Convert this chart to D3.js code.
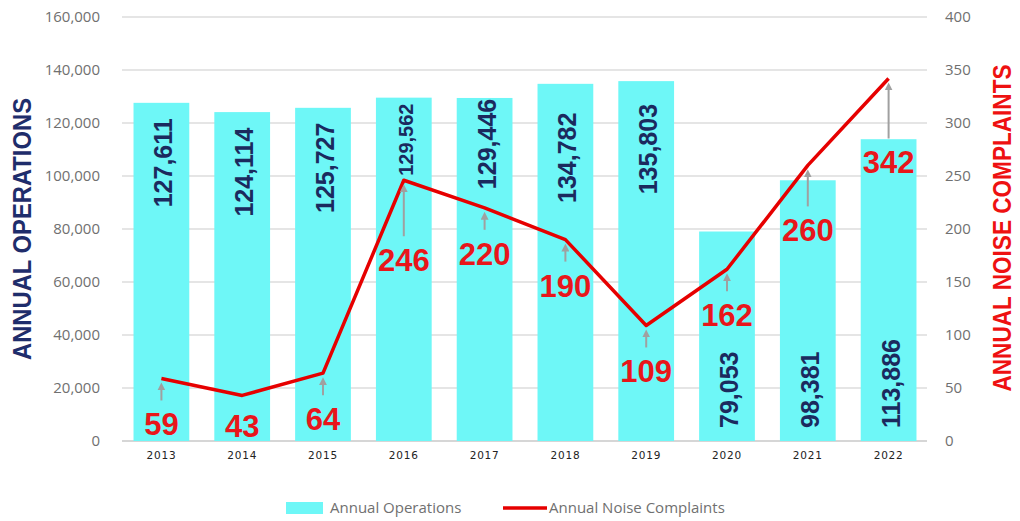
<!DOCTYPE html>
<html>
<head>
<meta charset="UTF-8">
<title></title>
<style>
  body { margin: 0; background: #fff; }
</style>
</head>
<body>
<script src="https://cdn.jsdelivr.net/npm/d3@7"></script>
<script>

    var years = ['2013', '2014', '2015', '2016', '2017', '2018', '2019', '2020', '2021', '2022'];
    var operations = [127611, 124114, 125727, 129562, 129446, 134782, 135803, 79053, 98381, 113886];
    var complaints = [59, 43, 64, 246, 220, 190, 109, 162, 260, 342];
    var opsTicks = [0, 20000, 40000, 60000, 80000, 100000, 120000, 140000, 160000];
    var noiseTicks = [0, 50, 100, 150, 200, 250, 300, 350, 400];

    var w = 1020,
        h = 521;
    var plotL = 121, plotR = 929, plotT = 17, plotB = 441;

    var svg = d3.select('body')
            .append('svg')
            .attr('width', w)
            .attr('height', h);

    var x = d3.scaleBand()
            .domain(years)
            .range([plotL, plotR])
            .paddingInner(0.31)
            .paddingOuter(0.155);
    var yOps = d3.scaleLinear().domain([0, 160000]).range([plotB, plotT]);
    var yNoise = d3.scaleLinear().domain([0, 400]).range([plotB, plotT]);

    function cx(i) { return x(years[i]) + x.bandwidth() / 2; }

    // gridlines
    svg.append('g')
            .selectAll('line')
            .data(opsTicks)
            .enter()
            .append('line')
            .attr('x1', plotL + 1)
            .attr('x2', plotR - 2)
            .attr('y1', function(d) { return yOps(d); })
            .attr('y2', function(d) { return yOps(d); })
            .attr('stroke', function(d) { return d === 0 ? '#c8c8c8' : '#dcdcdc'; })
            .attr('stroke-width', 1.5);

    // left axis
    var gl = svg.append('g')
            .attr('transform', 'translate(' + plotL + ',0)')
            .call(d3.axisLeft(yOps).tickValues(opsTicks).tickSize(0).tickPadding(21).tickFormat(d3.format(',')));
    gl.select('.domain').remove();
    gl.selectAll('text')
            .attr('font-family', 'Open Sans')
            .attr('font-size', '15px')
            .attr('fill', '#707070');

    // right axis
    var gr = svg.append('g')
            .attr('transform', 'translate(' + plotR + ',0)')
            .call(d3.axisRight(yNoise).tickValues(noiseTicks).tickSize(0).tickPadding(16));
    gr.select('.domain').remove();
    gr.selectAll('text')
            .attr('font-family', 'Open Sans')
            .attr('font-size', '15px')
            .attr('fill', '#707070');

    // bars
    svg.selectAll('rect.bar')
            .data(operations)
            .enter()
            .append('rect')
            .attr('class', 'bar')
            .attr('x', function(d, i) { return x(years[i]); })
            .attr('y', function(d) { return yOps(d); })
            .attr('width', x.bandwidth())
            .attr('height', function(d) { return plotB - yOps(d); })
            .attr('fill', '#6ef7f7');

    // bottom axis
    var gb = svg.append('g')
            .attr('transform', 'translate(0,' + plotB + ')')
            .call(d3.axisBottom(x).tickSize(0).tickPadding(11));
    gb.select('.domain').remove();
    gb.selectAll('text')
            .attr('font-family', 'DejaVu Sans')
            .attr('font-size', '10.5px')
            .attr('letter-spacing', '0.8px')
            .attr('fill', '#222');

    // operations labels (rotated); hand-placed like the original
    var opsShift = { '2016': 42, '2017': 46, '2018': 74, '2019': 68 };
    svg.selectAll('text.ops')
            .data(operations)
            .enter()
            .append('text')
            .attr('class', 'ops')
            .text(function(d) { return d3.format(',')(d); })
            .attr('transform', function(d, i) {
                var ty = d > 120000 ? yOps(d) + (opsShift[years[i]] || 60) : plotB - 13;
                var tx = cx(i) + (years[i] === '2016' ? 9 : 11);
                return 'translate(' + tx + ',' + ty + ') rotate(-90)';
            })
            .attr('text-anchor', function(d) { return d > 120000 ? 'middle' : 'start'; })
            .attr('font-family', 'Liberation Sans, Arial, sans-serif')
            .attr('font-weight', 'bold')
            .attr('font-size', function(d, i) { return years[i] === '2016' ? '20px' : '25px'; })
            .attr('fill', '#1b2a5e');

    // noise line
    var line = d3.line()
            .x(function(d, i) { return cx(i); })
            .y(function(d) { return yNoise(d); });

    svg.append('path')
            .datum(complaints)
            .attr('d', line)
            .attr('fill', 'none')
            .attr('stroke', '#e60000')
            .attr('stroke-width', 3.5)
            .attr('stroke-linejoin', 'round');

    // label drop below points (manual annotation placement)
    var drop = { '2016': 80, '2021': 65, '2022': 84 };
    function labelY(d, i) {
        var dy = drop[years[i]] || 46;
        return Math.min(yNoise(d) + dy, 426);
    }

    var noisePts = complaints.map(function(v, i) { return { v: v, i: i }; });

    // grey arrows from labels up to the points
    svg.append('defs').append('marker')
            .attr('id', 'head')
            .attr('viewBox', '0 0 10 10')
            .attr('refX', 5)
            .attr('refY', 5)
            .attr('markerWidth', 4)
            .attr('markerHeight', 4)
            .attr('orient', 'auto')
            .append('path')
            .attr('d', 'M0,0 L10,5 L0,10 z')
            .attr('fill', '#a0a0a0');

    svg.selectAll('line.arrow')
            .data(noisePts.filter(function(p) {
                return (labelY(p.v, p.i) - 24) - (yNoise(p.v) + 8) > 6;
            }))
            .enter()
            .append('line')
            .attr('class', 'arrow')
            .attr('x1', function(p) { return cx(p.i); })
            .attr('x2', function(p) { return cx(p.i); })
            .attr('y1', function(p) { return labelY(p.v, p.i) - 24; })
            .attr('y2', function(p) { return yNoise(p.v) + 8; })
            .attr('stroke', '#a0a0a0')
            .attr('stroke-width', 2)
            .attr('marker-end', 'url(#head)');

    svg.selectAll('text.noise')
            .data(noisePts)
            .enter()
            .append('text')
            .attr('class', 'noise')
            .text(function(p) { return p.v; })
            .attr('x', function(p) { return cx(p.i); })
            .attr('y', function(p) { return labelY(p.v, p.i) + 11; })
            .attr('text-anchor', 'middle')
            .attr('font-family', 'Liberation Sans, Arial, sans-serif')
            .attr('font-weight', 'bold')
            .attr('font-size', '31px')
            .attr('fill', '#e8161b');

    // axis titles
    svg.append('text')
            .text('ANNUAL OPERATIONS')
            .attr('transform', 'translate(31,229) rotate(-90)')
            .attr('text-anchor', 'middle')
            .attr('font-family', 'Liberation Sans, Arial, sans-serif')
            .attr('font-weight', 'bold')
            .attr('font-size', '25px')
            .attr('textLength', 262)
            .attr('lengthAdjust', 'spacingAndGlyphs')
            .attr('fill', '#1f2d6b');

    svg.append('text')
            .text('ANNUAL NOISE COMPLAINTS')
            .attr('transform', 'translate(1011,228) rotate(-90)')
            .attr('text-anchor', 'middle')
            .attr('font-family', 'Liberation Sans, Arial, sans-serif')
            .attr('font-weight', 'bold')
            .attr('font-size', '25px')
            .attr('textLength', 327)
            .attr('lengthAdjust', 'spacingAndGlyphs')
            .attr('fill', '#ee1111');

    // legend
    var lg = svg.append('g');
    lg.append('rect')
            .attr('x', 286).attr('y', 502)
            .attr('width', 37).attr('height', 12)
            .attr('fill', '#6ef7f7');
    lg.append('text')
            .text('Annual Operations')
            .attr('x', 330).attr('y', 513)
            .attr('font-family', 'Open Sans')
            .attr('font-size', '15px')
            .attr('fill', '#707070');
    lg.append('line')
            .attr('x1', 503).attr('x2', 547)
            .attr('y1', 508).attr('y2', 508)
            .attr('stroke', '#e60000')
            .attr('stroke-width', 3.5);
    lg.append('text')
            .text('Annual Noise Complaints')
            .attr('x', 549).attr('y', 513)
            .attr('font-family', 'Open Sans')
            .attr('font-size', '15px')
            .attr('fill', '#707070');

</script>
</body>
</html>
